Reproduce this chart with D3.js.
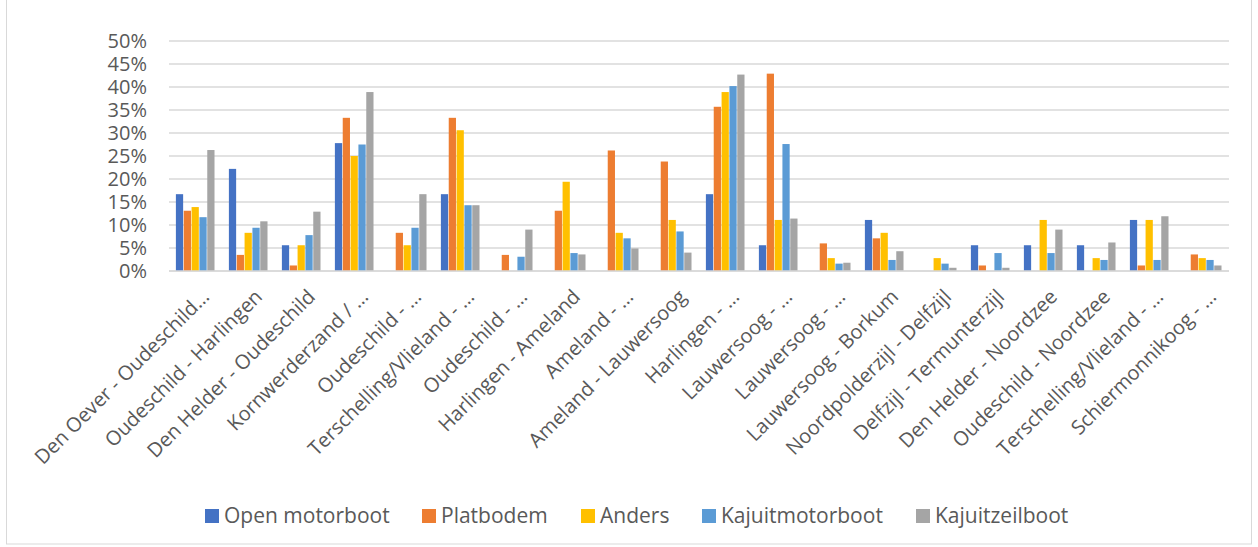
<!DOCTYPE html>
<html><head><meta charset="utf-8">
<script src="https://cdn.jsdelivr.net/npm/d3@7"></script>
<style>body{margin:0;background:#fff}svg{display:block}text{font-family:"Open Sans",sans-serif}</style>
</head><body><svg id="c" width="1258" height="547"></svg>
<script>
const categories = ["Den Oever - Oudeschild…","Oudeschild - Harlingen","Den Helder - Oudeschild","Kornwerderzand / …","Oudeschild - …","Terschelling/Vlieland - …","Oudeschild - …","Harlingen - Ameland","Ameland - …","Ameland - Lauwersoog","Harlingen - …","Lauwersoog - …","Lauwersoog - …","Lauwersoog - Borkum","Noordpolderzijl - Delfzijl","Delfzijl - Termunterzijl","Den Helder - Noordzee","Oudeschild - Noordzee","Terschelling/Vlieland - …","Schiermonnikoog - …"];
const seriesNames = ["Open motorboot","Platbodem","Anders","Kajuitmotorboot","Kajuitzeilboot"];
const openMotorboot = [16.7,22.2,5.6,27.8,0,16.7,0,0,0,0,16.7,5.6,0,11.1,0,5.6,5.6,5.6,11.1,0];
const platbodem = [13.1,3.5,1.2,33.3,8.3,33.3,3.5,13.1,26.2,23.8,35.7,42.9,6.0,7.1,0,1.2,0,0,1.2,3.6];
const anders = [13.9,8.3,5.6,25.0,5.6,30.6,0,19.4,8.3,11.1,38.9,11.1,2.8,8.3,2.8,0,11.1,2.8,11.1,2.8];
const kajuitmotorboot = [11.7,9.4,7.8,27.5,9.4,14.3,3.1,3.9,7.1,8.6,40.2,27.6,1.6,2.4,1.6,3.9,3.9,2.4,2.4,2.4];
const kajuitzeilboot = [26.3,10.8,12.9,38.9,16.7,14.3,9.0,3.6,4.9,4.0,42.7,11.4,1.8,4.3,0.7,0.7,9.0,6.2,11.9,1.2];
const yTicks = [0,5,10,15,20,25,30,35,40,45,50];
const colors = ["#4472C4","#ED7D31","#FFC000","#5B9BD5","#A5A5A5"];
const seriesValues = [openMotorboot, platbodem, anders, kajuitmotorboot, kajuitzeilboot];

const svg = d3.select("#c");
svg.append("rect").attr("x",6.5).attr("y",-2).attr("width",1245).attr("height",546)
  .attr("fill","none").attr("stroke","#d9d9d9");

const x0 = d3.scaleBand().domain(d3.range(categories.length)).range([169,1229]).paddingInner(0.26).paddingOuter(0.13);
const x1 = d3.scaleBand().domain(d3.range(seriesNames.length)).range([0,x0.bandwidth()]);
const y = d3.scaleLinear().domain([0,50]).range([271,41]);

// gridlines
svg.append("g").selectAll("line").data(yTicks).join("line")
  .attr("x1",169).attr("x2",1229).attr("y1",d=>y(d)).attr("y2",d=>y(d))
  .attr("stroke","#d9d9d9").attr("stroke-width",1.3);

// y axis labels
const yAxis = d3.axisLeft(y).tickValues(yTicks).tickFormat(d=>d+"%").tickSize(0).tickPadding(0);
const gy = svg.append("g").attr("transform","translate(147,0)").call(yAxis);
gy.select(".domain").remove();
gy.selectAll("text").attr("fill","#595959").style("font-size","20px").style("font-family","'Open Sans',sans-serif");

// bars
const groups = svg.append("g").selectAll("g").data(categories.map((c,i)=>i)).join("g")
  .attr("transform",i=>`translate(${x0(i)},0)`);
groups.selectAll("rect").data(i=>seriesValues.map((s,k)=>({k,v:s[i]}))).join("rect")
  .attr("x",d=>x1(d.k)).attr("width",x1.bandwidth()-0.6)
  .attr("y",d=>y(d.v)).attr("height",d=>y(0)-y(d.v))
  .attr("fill",d=>colors[d.k]);

// x axis line
svg.append("line").attr("x1",169).attr("x2",1229).attr("y1",y(0)).attr("y2",y(0)).attr("stroke","#d9d9d9").attr("stroke-width",1.5);

// x labels
const xAxis = d3.axisBottom(x0).tickFormat(i=>categories[i]).tickSize(0).tickPadding(0);
const gx = svg.append("g").attr("transform",`translate(0,${y(0)})`).call(xAxis);
gx.select(".domain").remove();
gx.selectAll("text").attr("fill","#595959").style("font-size","20px").style("font-family","'Open Sans',sans-serif")
  .attr("text-anchor","end").attr("dy",null).attr("y",0)
  .attr("transform","translate(15,27) rotate(-45)");

// legend
const legX = [205,422,581,702,916];
const leg = svg.append("g").selectAll("g").data(seriesNames).join("g")
  .attr("transform",(d,i)=>`translate(${legX[i]},509)`);
leg.append("rect").attr("width",14).attr("height",14).attr("fill",(d,i)=>colors[i]);
leg.append("text").attr("x",19).attr("y",14).attr("fill","#595959").style("font-size","21px").text(d=>d);
</script></body></html>
